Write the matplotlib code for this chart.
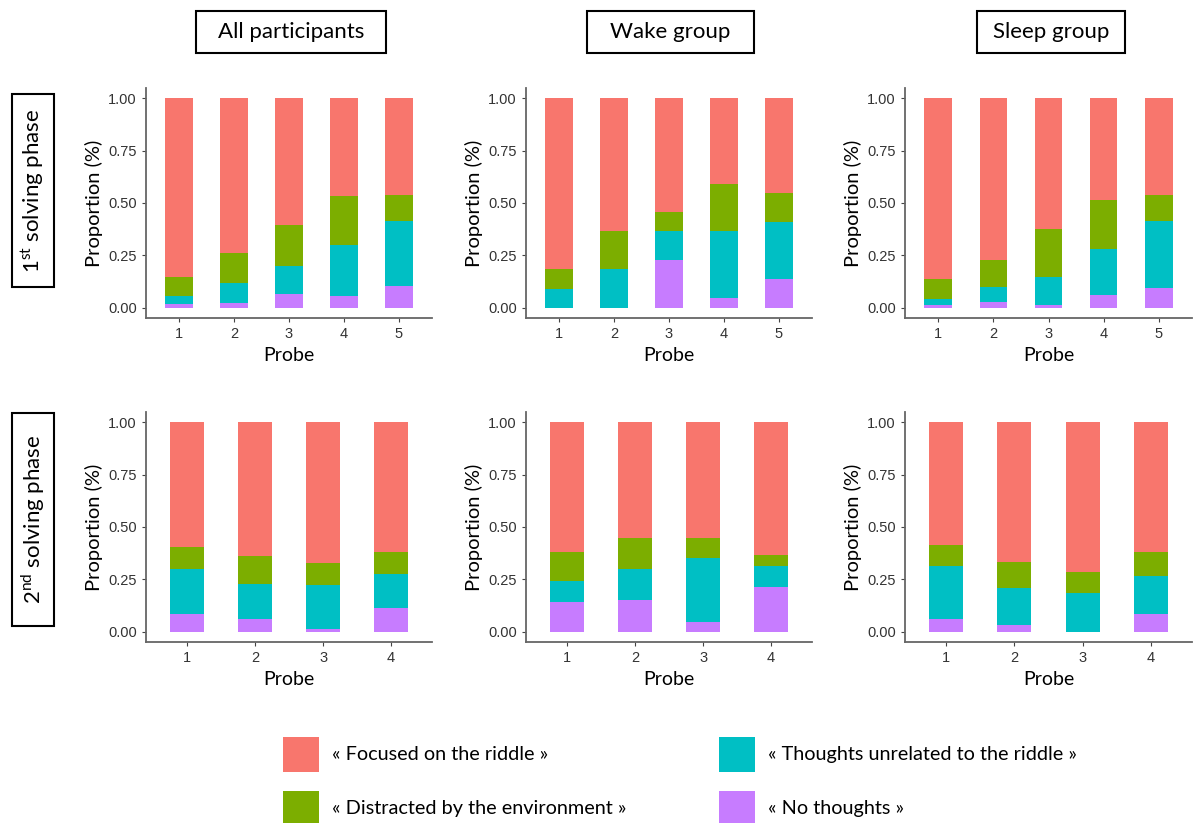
import matplotlib
matplotlib.use("Agg")
import matplotlib.pyplot as plt
from matplotlib.patches import Rectangle
import numpy as np

plt.rcParams['mathtext.fontset'] = 'custom'
plt.rcParams['mathtext.rm'] = 'Lato'

# ---- Data (stacked proportions per probe: bottom->top) ----
categories = ["« Focused on the riddle »", "« Thoughts unrelated to the riddle »",
              "« Distracted by the environment »", "« No thoughts »"]
col_titles = ["All participants", "Wake group", "Sleep group"]
row_titles = ["1$^{\\mathrm{st}}$ solving phase", "2$^{\\mathrm{nd}}$ solving phase"]
probes_p1 = [1, 2, 3, 4, 5]
probes_p2 = [1, 2, 3, 4]

# Phase 1
all_p1_none = [0.016, 0.022, 0.067, 0.054, 0.104]
all_p1_unrel = [0.037, 0.097, 0.130, 0.245, 0.310]
all_p1_env = [0.092, 0.142, 0.199, 0.233, 0.126]

wake_p1_none = [0.0, 0.0, 0.226, 0.045, 0.135]
wake_p1_unrel = [0.091, 0.182, 0.139, 0.320, 0.276]
wake_p1_env = [0.091, 0.183, 0.090, 0.226, 0.135]

sleep_p1_none = [0.014, 0.027, 0.014, 0.059, 0.092]
sleep_p1_unrel = [0.027, 0.073, 0.131, 0.220, 0.324]
sleep_p1_env = [0.094, 0.129, 0.229, 0.235, 0.124]

# Phase 2
all_p2_none = [0.083, 0.059, 0.014, 0.113]
all_p2_unrel = [0.216, 0.169, 0.211, 0.163]
all_p2_env = [0.104, 0.133, 0.102, 0.104]

wake_p2_none = [0.141, 0.149, 0.048, 0.211]
wake_p2_unrel = [0.099, 0.150, 0.302, 0.104]
wake_p2_env = [0.142, 0.148, 0.097, 0.052]

sleep_p2_none = [0.062, 0.030, 0.0, 0.083]
sleep_p2_unrel = [0.253, 0.176, 0.185, 0.184]
sleep_p2_env = [0.099, 0.128, 0.099, 0.115]

panels = [
    [(probes_p1, all_p1_none, all_p1_unrel, all_p1_env),
     (probes_p1, wake_p1_none, wake_p1_unrel, wake_p1_env),
     (probes_p1, sleep_p1_none, sleep_p1_unrel, sleep_p1_env)],
    [(probes_p2, all_p2_none, all_p2_unrel, all_p2_env),
     (probes_p2, wake_p2_none, wake_p2_unrel, wake_p2_env),
     (probes_p2, sleep_p2_none, sleep_p2_unrel, sleep_p2_env)],
]

colors = {"focus": "#F8766D", "unrel": "#00BFC4", "env": "#7CAE00", "none": "#C77CFF"}

W, H = 1196, 823
fig = plt.figure(figsize=(W / 100, H / 100), dpi=100)


def rect(x0, y0, x1, y1):
    return [x0 / W, 1 - y1 / H, (x1 - x0) / W, (y1 - y0) / H]


col_x = [(146, 432), (526, 812), (905, 1192)]
row_y = [(88, 318), (412, 642)]

for r in range(2):
    for c in range(3):
        probes, none, unrel, env = panels[r][c]
        none = np.array(none)
        unrel = np.array(unrel)
        env = np.array(env)
        focus = 1 - none - unrel - env
        ax = fig.add_axes(rect(col_x[c][0], row_y[r][0], col_x[c][1], row_y[r][1]))
        x = np.array(probes)
        bottom = np.zeros(len(x))
        for vals, key in [(none, "none"), (unrel, "unrel"), (env, "env"), (focus, "focus")]:
            ax.bar(x, vals, bottom=bottom, width=0.5, color=colors[key], linewidth=0)
            bottom = bottom + vals
        ax.set_xlim(0.4, len(x) + 0.6)
        ax.set_ylim(-0.05, 1.05)
        ax.set_xticks(x)
        ax.set_xticklabels([str(p) for p in probes])
        ax.set_yticks([0, 0.25, 0.5, 0.75, 1.0])
        ax.set_yticklabels(["0.00", "0.25", "0.50", "0.75", "1.00"])
        for s in ["top", "right"]:
            ax.spines[s].set_visible(False)
        for s in ["left", "bottom"]:
            ax.spines[s].set_color("#666666")
            ax.spines[s].set_linewidth(1.3)
        ax.tick_params(axis="both", colors="#444444", length=3, width=0.8,
                       labelsize=10.5, labelcolor="#333333")
        for lab in ax.get_xticklabels() + ax.get_yticklabels():
            lab.set_fontfamily("Liberation Sans")
        ax.set_ylabel("Proportion (%)", fontfamily="Lato", fontsize=14.5, labelpad=4)
        ax.set_xlabel("Probe", fontfamily="Lato", fontsize=14, labelpad=4)

# Column title boxes
title_boxes = [(196, 11, 386, 53), (587, 11, 754, 53), (977, 11, 1125, 53)]
for (x0, y0, x1, y1), t in zip(title_boxes, col_titles):
    fig.patches.append(Rectangle((x0 / W, 1 - y1 / H), (x1 - x0) / W, (y1 - y0) / H,
                                 transform=fig.transFigure, fill=False, edgecolor="black",
                                 linewidth=1.5))
    fig.text((x0 + x1) / 2 / W, 1 - (y0 + y1) / 2 / H, t, ha="center", va="center",
             fontfamily="Lato", fontsize=16)

# Row title boxes
row_boxes = [(12, 94, 54, 287), (12, 413, 54, 626)]
for (x0, y0, x1, y1), t in zip(row_boxes, row_titles):
    fig.patches.append(Rectangle((x0 / W, 1 - y1 / H), (x1 - x0) / W, (y1 - y0) / H,
                                 transform=fig.transFigure, fill=False, edgecolor="black",
                                 linewidth=1.5))
    fig.text((x0 + x1) / 2 / W, 1 - (y0 + y1) / 2 / H, t, ha="center", va="center",
             rotation=90, fontfamily="Lato", fontsize=16)

# Legend
legend_items = [
    (283, 737, colors["focus"], categories[0]),
    (719, 737, colors["unrel"], categories[1]),
    (283, 791, colors["env"], categories[2]),
    (719, 791, colors["none"], categories[3]),
]
for x0, y0, col, label in legend_items:
    fig.patches.append(Rectangle((x0 / W, 1 - (y0 + 35) / H), 36 / W, 35 / H,
                                 transform=fig.transFigure, color=col, linewidth=0))
    fig.text((x0 + 49) / W, 1 - (y0 + 17.5) / H, label, ha="left", va="center",
             fontfamily="Lato", fontsize=14.3)

fig.savefig("out.png", dpi=100, facecolor="white")
